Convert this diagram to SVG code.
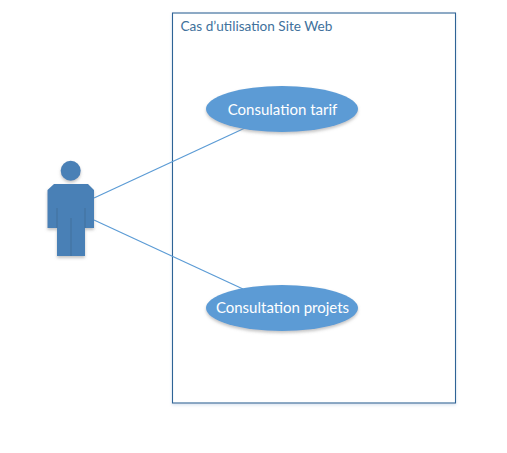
<svg xmlns="http://www.w3.org/2000/svg" width="507" height="453" viewBox="0 0 507 453">
<style>
.t{font-family:"Lato","Open Sans",sans-serif}
.uc{fill:#5b9bd5}
.ul{fill:#fff;font-size:15px;text-anchor:middle}
.c{stroke:#5b9bd5;stroke-width:1.2;fill:none}
</style>
<defs>
<filter id="s" x="-10%" y="-20%" width="120%" height="150%"><feDropShadow dx="0" dy="2" stdDeviation="1.6" flood-color="#8a8a8a" flood-opacity="0.5"/></filter>
<filter id="b" x="-5%" y="-5%" width="110%" height="110%"><feDropShadow dx="0" dy="1.5" stdDeviation="1.5" flood-color="#9db8d8" flood-opacity="0.4"/></filter>
</defs>
<rect width="507" height="453" fill="#fff"/>
<g id="system">
<rect x="172.500" y="13" width="283" height="390" fill="#fff" stroke="#2f6496" stroke-width="1.1" filter="url(#b)"/>
<text class="t" x="180.500" y="31" font-size="13.600" fill="#41719c">Cas d’utilisation Site Web</text>
</g>
<g id="connectors">
<path class="c" d="M94 198L245 128"/>
<path class="c" d="M94 220L243 289"/>
</g>
<g id="actor" filter="url(#s)">
<circle cx="70.700" cy="170.700" r="10" fill="#4a80b6"/>
<path d="M54 184H88L94 190V228H85V256H57V228H47.500V190Z" fill="#4a80b6"/>
<path d="M57 208V228M85 208V228M71 218V256" stroke="#41719c" stroke-width="1" fill="none"/>
</g>
<g id="uc1">
<ellipse class="uc" cx="282" cy="109" rx="76" ry="23" filter="url(#s)"/>
<text class="t ul" x="282.500" y="114.500">Consulation tarif</text>
</g>
<g id="uc2">
<ellipse class="uc" cx="282" cy="308" rx="76" ry="23" filter="url(#s)"/>
<text class="t ul" x="282.500" y="313">Consultation projets</text>
</g>
</svg>
